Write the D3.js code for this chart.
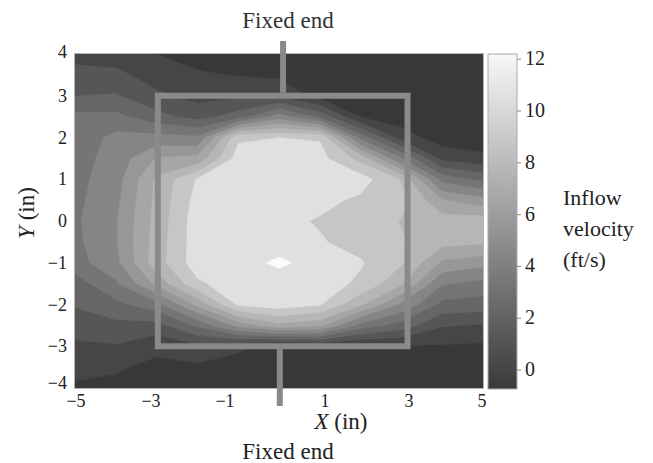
<!DOCTYPE html>
<html><head><meta charset="utf-8">
<script src="https://cdn.jsdelivr.net/npm/d3@7/dist/d3.min.js"></script>
<style>
html,body{margin:0;padding:0;background:#fff;}
svg{display:block;font-family:"Liberation Serif","DejaVu Serif",serif;}
</style></head>
<body>
<svg id="chart" width="653" height="463"></svg>
<script>
// ---- data ----
const xValues = [-5,-4,-3,-2,-1,0,1,2,3,4,5];
const yValues = [4,3.5,3,2.5,2,1.5,1,0.5,0,-0.5,-1,-1.5,-2,-2.5,-3,-3.5,-4];
// inflow velocity (ft/s), rows = yValues (top to bottom), columns = xValues
const velocity = [
  [0.6, 0.5, 0.0,-0.3,-0.5,-0.6,-0.7,-0.7,-0.7,-0.7,-0.7],
  [1.6, 1.4, 0.6, 0.1,-0.05,-0.2,-0.5,-0.7,-0.7,-0.7,-0.7],
  [2.2, 2.3, 1.3, 0.7, 0.9, 0.8,-0.4,-0.6,-0.7,-0.7,-0.7],
  [3.6, 3.6, 2.6, 1.8, 2.7, 5.0, 3.0,-0.05,-0.6,-0.7,-0.7],
  [3.7, 4.7, 4.8, 4.6, 9.8,10.0, 9.9, 4.0, 0.6,-0.6,-0.7],
  [3.9, 4.9, 6.8, 7.0,10.5,10.4,10.4, 8.5, 4.5, 0.8, 0.3],
  [4.0, 5.1, 8.0,10.1,10.6,10.6,10.5,10.5, 8.8, 4.0, 3.0],
  [4.1, 5.3, 8.1,10.4,10.6,10.6,10.3, 9.8, 9.3, 6.8, 6.0],
  [4.2, 5.5, 8.2,10.6,10.5,10.3, 9.9, 9.5, 8.85,8.3, 8.4],
  [4.1, 5.5, 8.3,10.6,10.6,10.6,10.1, 9.6, 9.0, 8.2, 8.0],
  [3.9, 5.3, 8.4,10.6,10.68,11.15,10.68,10.1,9.05,6.5, 6.0],
  [2.8, 4.2, 7.0, 9.8,10.6,10.6,10.5, 9.8, 8.0, 4.5, 4.0],
  [2.3, 3.0, 4.0, 7.0,10.2,10.6,10.1, 8.0, 5.4, 3.0, 2.8],
  [1.6, 1.9, 1.8, 3.5, 6.0, 7.5, 7.0, 4.0, 2.8, 1.2, 1.0],
  [0.9, 1.0, 0.3, 0.85,0.2,-0.5, 0.0,-0.2,-0.1,-0.1,-0.2],
  [0.4, 0.15,-0.3,-0.2,-0.4,-0.6,-0.5,-0.6,-0.5,-0.5,-0.5],
  [-0.2,-0.3,-0.4,-0.4,-0.5,-0.6,-0.6,-0.65,-0.6,-0.6,-0.6]
];
const levels = [0,1.1,2.2,3.3,4.4,5.6,6.7,7.8,8.9,10,11];
const xTickLabels = [-5,-3,-1,1,3,5];
const yTickLabels = [4,3,2,1,0,-1,-2,-3,-4];
const cbarTicks = [0,2,4,6,8,10,12];
const cbarRange = [-0.73, 12.2];
const specimenX = [-2.97, 3.15];   // square outline (in)
const specimenY = [-3, 3];
const rodTopX = 0.1, rodBottomX = 0.02;

// ---- layout ----
const svg = d3.select("#chart");
const plot = {left:75, right:483, top:54, bottom:388};
const xs = d3.scaleLinear().domain([-5,5]).range([plot.left, plot.right]);
const ys = d3.scaleLinear().domain([-4,4]).range([plot.bottom, plot.top]);
// tick label placement as printed in the original figure
const xLabelPos = d3.scaleLinear().domain([-5,-3,-1,1,3,5]).range([76,151,225,325,409,482]);

const bandColor = d3.scaleLinear().domain([-1,0,8.9,10,11])
  .range(["#383838","#464646","#c6c6c6","#e0e0e0","#fbfbfb"]);

const nx = xValues.length, ny = yValues.length;
const flat = velocity.flat();
const colToX = d3.scaleLinear().domain([0.5, nx-0.5]).range([xValues[0], xValues[nx-1]]);
const rowToY = d3.scaleLinear().domain([0.5, ny-0.5]).range([yValues[0], yValues[ny-1]]);
const proj = d3.geoTransform({point(u,v){ this.stream.point(xs(colToX(u)), ys(rowToY(v))); }});
const path = d3.geoPath(proj);

svg.append("defs").append("clipPath").attr("id","clip")
  .append("rect").attr("x",plot.left).attr("y",plot.top)
  .attr("width",plot.right-plot.left).attr("height",plot.bottom-plot.top);

const g = svg.append("g").attr("clip-path","url(#clip)");
g.append("rect").attr("x",plot.left).attr("y",plot.top)
  .attr("width",plot.right-plot.left).attr("height",plot.bottom-plot.top)
  .attr("fill",bandColor(-1));
const contours = d3.contours().size([nx,ny]).thresholds(levels)(flat);
g.selectAll("path.band").data(contours).join("path")
  .attr("class","band")
  .attr("d",path)
  .attr("fill",d=>bandColor(d.value))
  .attr("stroke",d=>bandColor(d.value)).attr("stroke-width",0.4);

// plot frame
svg.append("rect").attr("x",plot.left-0.5).attr("y",plot.top-0.5)
  .attr("width",plot.right-plot.left+1).attr("height",plot.bottom-plot.top+1)
  .attr("fill","none").attr("stroke","#b5b5b5").attr("stroke-width",1);

// specimen outline and rods
const grey = "#8a8a8a";
svg.append("rect")
  .attr("x",xs(specimenX[0])).attr("y",ys(specimenY[1]))
  .attr("width",xs(specimenX[1])-xs(specimenX[0]))
  .attr("height",ys(specimenY[0])-ys(specimenY[1]))
  .attr("fill","none").attr("stroke",grey).attr("stroke-width",6);
svg.append("line").attr("x1",xs(rodTopX)).attr("x2",xs(rodTopX))
  .attr("y1",41).attr("y2",ys(specimenY[1])-3)
  .attr("stroke",grey).attr("stroke-width",6);
svg.append("line").attr("x1",xs(rodBottomX)).attr("x2",xs(rodBottomX))
  .attr("y1",ys(specimenY[0])+3).attr("y2",406)
  .attr("stroke",grey).attr("stroke-width",6);

// axes labels
const tickFont = 18;
svg.append("g").selectAll("text").data(xTickLabels).join("text")
  .attr("x",d=>xLabelPos(d)).attr("y",407)
  .attr("text-anchor","middle").attr("font-size",tickFont).attr("fill","#222")
  .text(d=>d<0?"\u2212"+Math.abs(d):d);
svg.append("g").selectAll("text").data(yTickLabels).join("text")
  .attr("x",67).attr("y",d=>ys(d)+6 - (d===4?2:0) - (d===-4?5:0))
  .attr("text-anchor","end").attr("font-size",tickFont).attr("fill","#222")
  .text(d=>d<0?"\u2212"+Math.abs(d):d);

const xl = svg.append("text").attr("x",341).attr("y",429).attr("text-anchor","middle")
  .attr("font-size",23).attr("fill","#222");
xl.append("tspan").attr("font-style","italic").text("X");
xl.append("tspan").text(" (in)");
const yl = svg.append("text").attr("transform","translate(34,213) rotate(-90)")
  .attr("text-anchor","middle").attr("font-size",23).attr("fill","#222");
yl.append("tspan").attr("font-style","italic").text("Y");
yl.append("tspan").text(" (in)");

svg.append("text").attr("x",288).attr("y",28).attr("text-anchor","middle")
  .attr("font-size",23).attr("fill","#333").text("Fixed end");
svg.append("text").attr("x",288).attr("y",459).attr("text-anchor","middle")
  .attr("font-size",23).attr("fill","#222").text("Fixed end");

// colorbar
const cb = {x:488, w:29, top:54, bottom:389};
const cbScale = d3.scaleLinear().domain(cbarRange).range([cb.bottom, cb.top]);
const cbColor = d3.scaleLinear().domain(cbarRange).range(["#3a3a3a","#f8f8f8"]);
const grad = svg.select("defs").append("linearGradient").attr("id","cbgrad")
  .attr("x1",0).attr("x2",0).attr("y1",1).attr("y2",0);
grad.selectAll("stop").data(cbarRange).join("stop")
  .attr("offset",(d,i)=>i).attr("stop-color",d=>cbColor(d));
svg.append("rect").attr("x",cb.x).attr("y",cb.top).attr("width",cb.w)
  .attr("height",cb.bottom-cb.top).attr("fill","url(#cbgrad)")
  .attr("stroke","#aaa").attr("stroke-width",1);
svg.append("g").selectAll("line").data(cbarTicks).join("line")
  .attr("x1",cb.x+cb.w).attr("x2",cb.x+cb.w+4)
  .attr("y1",d=>cbScale(d)).attr("y2",d=>cbScale(d))
  .attr("stroke","#888").attr("stroke-width",1);
svg.append("g").selectAll("text").data(cbarTicks).join("text")
  .attr("x",525).attr("y",d=>cbScale(d)+6)
  .attr("font-size",20).attr("fill","#222").text(d=>d);

const lg = svg.append("text").attr("x",563).attr("font-size",22).attr("fill","#222");
["Inflow","velocity","(ft/s)"].forEach((t,i)=>{
  lg.append("tspan").attr("x",563).attr("y",205+i*31).text(t);
});
</script>
</body></html>
